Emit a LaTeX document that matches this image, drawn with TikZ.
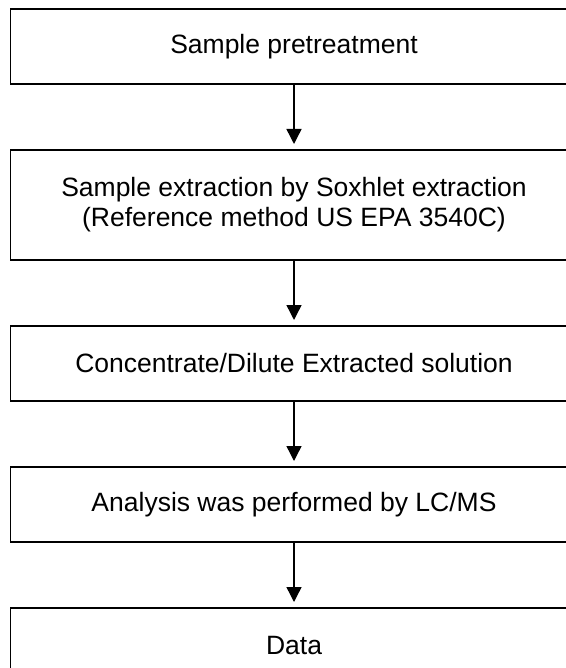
\documentclass[tikz,border=0pt]{standalone}
\usepackage{fontspec}
\setmainfont{Liberation Sans}
\usetikzlibrary{shapes,arrows.meta,positioning,fit,backgrounds}

\begin{document}
\begin{tikzpicture}[x=0.5pt,y=-0.5pt,
        stepbox/.style={draw, line width=0.7pt, minimum width=283.3pt, minimum height=37.5pt,
            inner sep=0pt, outer sep=0pt, align=center, font=\fontsize{13.25}{15}\selectfont},
        flow/.style={-{Triangle[length=7.5pt,width=7.5pt]}, line width=0.7pt, shorten >=3pt},
        node distance=33pt]
        % Page
        \useasboundingbox (0,0) rectangle (566,668);
        \clip (0,0) rectangle (566,668);

        % Steps
        \node[stepbox] (pretreat) at (294,46.5) {Sample pretreatment};
        \node[stepbox, minimum height=55pt, below=of pretreat] (extract)
            {Sample extraction by Soxhlet extraction\\(Reference method US EPA 3540C)};
        \node[stepbox, below=of extract] (dilute) {Concentrate/Dilute Extracted solution};
        \node[stepbox, below=of dilute] (lcms) {Analysis was performed by LC/MS};
        \node[stepbox, below=of lcms] (data) {Data};

        % Arrows
        \draw[flow] (pretreat) -- (extract);
        \draw[flow] (extract) -- (dilute);
        \draw[flow] (dilute) -- (lcms);
        \draw[flow] (lcms) -- (data);
    \end{tikzpicture}
\end{document}
